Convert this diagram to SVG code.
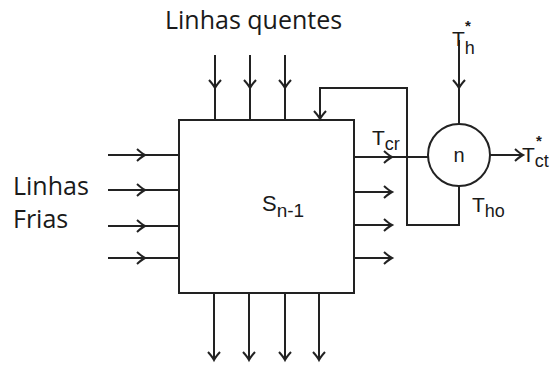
<svg xmlns="http://www.w3.org/2000/svg" width="555" height="365" viewBox="0 0 555 365">
<style>
.ln{fill:none;stroke:#222;stroke-width:2;stroke-linejoin:miter}
.lbl{font-family:"Open Sans","Liberation Sans",sans-serif;font-size:25px;fill:#1a1a1a}
.sym{font-family:"Liberation Sans","DejaVu Sans",sans-serif;fill:#1a1a1a}
.big{font-size:21px}
.sub{font-size:18px}
.star{font-family:"Liberation Sans","DejaVu Sans",sans-serif;font-size:15px;font-weight:bold;fill:#1a1a1a}
.midA{marker-mid:url(#ah)}
.endA{marker-end:url(#ah)}
</style>
<defs>
<marker id="ah" markerUnits="userSpaceOnUse" markerWidth="16" markerHeight="16" viewBox="-10 -8 12 16" refX="0" refY="0" orient="auto">
<path d="M-8,-6 Q-3,-1.5 0,0 Q-3,1.5 -8,6" fill="none" stroke="#222" stroke-width="2"/>
</marker>
</defs>

<g id="labels">
<text class="lbl" x="165" y="29">Linhas quentes</text>
<text class="lbl" x="13" y="195">Linhas</text>
<text class="lbl" x="13" y="228">Frias</text>
</g>

<g id="block-sn1">
<rect class="ln" x="179" y="120" width="175" height="173"/>
<text class="sym" x="262" y="211" font-size="22">S<tspan font-size="19" dy="6">n-1</tspan></text>
</g>

<g id="node-n">
<circle class="ln" cx="459" cy="155" r="31" fill="#fff"/>
<text class="sym" x="459" y="162" font-size="20" text-anchor="middle">n</text>
</g>

<g id="connectors">
<path class="ln midA" d="M215,55 L215,88 L215,120"/>
<path class="ln midA" d="M250,55 L250,88 L250,120"/>
<path class="ln midA" d="M285,55 L285,88 L285,120"/>
<path class="ln midA" d="M108,155 L145,155 L179,155"/>
<path class="ln midA" d="M108,190 L145,190 L179,190"/>
<path class="ln midA" d="M108,226 L145,226 L179,226"/>
<path class="ln midA" d="M108,258 L145,258 L179,258"/>
<path class="ln endA" d="M214,293 L214,360"/>
<path class="ln endA" d="M249,293 L249,360"/>
<path class="ln endA" d="M285,293 L285,360"/>
<path class="ln endA" d="M319,293 L319,360"/>
<path class="ln midA" d="M354,157 L392,157 L428,157"/>
<path class="ln endA" d="M354,192 L392,192"/>
<path class="ln endA" d="M354,225 L392,225"/>
<path class="ln endA" d="M354,258 L392,258"/>
<path class="ln midA" d="M459,40 L459,88 L459,124"/>
<path class="ln endA" d="M490,155 L523,155"/>
<path class="ln endA" d="M459,186 L459,225 L407,225 L407,88 L320,88 L320,119"/>
</g>

<g id="temps">
<text class="sym" x="372" y="145"><tspan class="big">T</tspan><tspan class="sub" dy="5">cr</tspan></text>
<text class="sym" x="452" y="46"><tspan class="big">T</tspan><tspan class="sub" dy="8">h</tspan></text>
<text class="star" x="465" y="31">*</text>
<text class="sym" x="522" y="162"><tspan class="big">T</tspan><tspan class="sub" dy="5">ct</tspan></text>
<text class="star" x="536" y="146">*</text>
<text class="sym" x="472" y="212"><tspan class="big">T</tspan><tspan class="sub" dy="5">ho</tspan></text>
</g>
</svg>
